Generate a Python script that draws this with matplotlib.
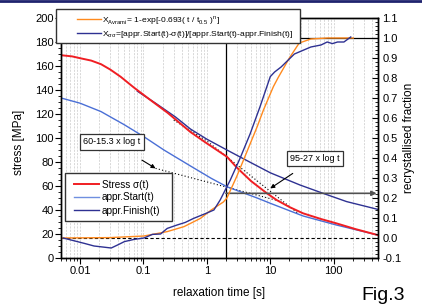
import matplotlib
matplotlib.use("Agg")
import matplotlib.pyplot as plt
from matplotlib.lines import Line2D
from matplotlib.patches import Rectangle
from matplotlib.ticker import MultipleLocator, LogLocator, FixedLocator, FixedFormatter, NullFormatter

plt.rcParams['font.family'] = ['Liberation Sans', 'DejaVu Sans']

# ---- data ----
t_stress = [0.005, 0.0075, 0.01, 0.015, 0.0214, 0.03, 0.0437, 0.0708, 0.126, 0.24, 0.55, 1.0,
            2.07, 2.95, 5.0, 8.8, 12.6, 20, 33, 63, 110, 224, 490]
stress = [169, 168, 166.5, 164.5, 161.5, 157, 151, 142, 132, 121, 105, 95.5,
          84.4, 75.5, 64, 54, 48.3, 42.5, 37.2, 32.5, 28.9, 24, 19.2]

t_upper = [0.08, 0.16, 0.32, 0.55, 1.0, 2.07, 4.0, 10, 29.5, 68, 160, 490]
upper = [139, 128.5, 117.5, 107.5, 99, 90, 82, 71, 60.8, 53.9, 47, 40.6]

t_lower = [0.0053, 0.01, 0.0214, 0.05, 0.102, 0.21, 0.55, 1.17, 2.07, 6.2, 10, 33, 110, 490]
lower = [133, 129, 122, 111, 101, 90, 76.7, 66.4, 59.4, 50, 45.6, 35, 27.5, 19.2]

t_avrami = [0.005, 0.03, 0.102, 0.237, 0.437, 0.79, 1.17, 1.82, 2.07, 2.95, 3.9, 4.8,
            6.2, 7.8, 11.2, 13.2, 20, 28.6, 43.6, 80, 204]
x_avrami = [0.0, 0.002, 0.01, 0.032, 0.057, 0.098, 0.14, 0.18, 0.2, 0.307, 0.40, 0.47,
            0.556, 0.64, 0.757, 0.80, 0.90, 0.975, 0.995, 1.0, 1.0]

t_xs = [0.0054, 0.0117, 0.0166, 0.031, 0.039, 0.05, 0.071, 0.102, 0.138, 0.186, 0.237,
        0.339, 0.457, 0.617, 1.0, 1.29, 1.62, 2.34, 3.35, 4.8, 6.9, 10, 11.7, 14.8, 24,
        43.6, 63, 79, 95.5, 115, 145, 186]
x_s = [0.0, -0.027, -0.04, -0.05, -0.035, -0.018, -0.007, 0.0, 0.018, 0.02, 0.048,
       0.065, 0.078, 0.098, 0.125, 0.14, 0.19, 0.29, 0.40, 0.52, 0.657, 0.807, 0.83, 0.855, 0.92,
       0.955, 0.965, 0.98, 0.972, 0.98, 0.98, 1.005]

t_fit_upper = [0.3, 1.0, 27]
fit_upper = [115, 97.5, 37.5]
t_fit_lower = [0.155, 15]
fit_lower = [74.7, 47.0]

x_ticks = [0.01, 0.1, 1, 10, 100]
x_ticklabels = ['0.01', '0.1', '1', '10', '100']

RED = '#f01e23'
ORANGE = '#ff8a1e'
NAVY = '#2e3192'
BLUE = '#4a6fd6'

fig = plt.figure(figsize=(4.22, 3.05), dpi=100)
ax = fig.add_axes([61/422, 1-258/305, (378-61)/422, (258-18)/305])
ax2 = ax.twinx()

ax.set_xscale('log')
ax.set_xlim(0.005, 500)
ax.set_ylim(0, 200)
ax2.set_ylim(-0.1, 1.1)

ax.grid(True, which='both', axis='x', color='#d2d2d2', ls=(0, (2.5, 1.5)), lw=0.6)
ax.set_axisbelow(True)

ax.axvline(2, color='black', lw=0.9, zorder=1.5)

ax.plot(t_fit_upper, fit_upper, color='black', ls=(0, (1, 2)), lw=0.8)
ax.plot(t_fit_lower, fit_lower, color='black', ls=(0, (1, 2)), lw=0.8)

ax.plot(t_lower, lower, color=BLUE, lw=1.0)
ax.plot(t_upper, upper, color=NAVY, lw=1.0)
ax.plot(t_stress, stress, color=RED, lw=1.4)

ax.annotate('', xy=(500, 53.9), xytext=(2, 53.9),
            arrowprops=dict(arrowstyle='-|>', color='#505050', lw=1.2, mutation_scale=7,
                            shrinkA=0, shrinkB=1))

ax2.axhline(0.0, color='black', ls=(0, (3, 2)), lw=0.8)
ax2.hlines(1.0, 28, 500, color='black', lw=0.9)
ax2.plot(t_avrami, x_avrami, color=ORANGE, lw=1.0)
ax2.plot(t_xs, x_s, color=NAVY, lw=1.0)

bbox = dict(boxstyle='square,pad=0.35', fc='white', ec='#333333', lw=0.9)
ax.annotate('60-15.3 x log t', xy=(0.155, 74.7), xytext=(0.0318, 96.7), fontsize=6.5,
            ha='center', va='center', bbox=bbox, zorder=6,
            arrowprops=dict(arrowstyle='-|>', color='black', lw=0.8, mutation_scale=6,
                            shrinkA=14, shrinkB=0))
ax.annotate('95-27 x log t', xy=(10, 58), xytext=(51.3, 83), fontsize=6.5,
            ha='center', va='center', bbox=bbox, zorder=6,
            arrowprops=dict(arrowstyle='-|>', color='black', lw=0.8, mutation_scale=6,
                            shrinkA=9, shrinkB=0))

# ticks
ax.xaxis.set_major_locator(FixedLocator(x_ticks))
ax.xaxis.set_major_formatter(FixedFormatter(x_ticklabels))
ax.xaxis.set_minor_locator(LogLocator(base=10, subs=range(2, 10), numticks=20))
ax.xaxis.set_minor_formatter(NullFormatter())
ax.yaxis.set_major_locator(MultipleLocator(20))
ax.yaxis.set_minor_locator(MultipleLocator(5))
ax2.yaxis.set_major_locator(MultipleLocator(0.1))
ax2.yaxis.set_minor_locator(MultipleLocator(0.02))
ax2.yaxis.set_major_formatter(plt.FuncFormatter(lambda v, p: f'{v:.1f}'))

ax.tick_params(axis='x', which='major', direction='out', length=4, width=0.8, labelsize=8, pad=2)
ax.tick_params(axis='x', which='minor', direction='out', length=2.5, width=0.6)
ax.tick_params(axis='y', which='major', direction='out', length=4, width=0.8, labelsize=8, pad=1)
ax.tick_params(axis='y', which='minor', direction='out', length=2, width=0.6)
ax2.tick_params(axis='y', which='major', direction='in', length=4, width=0.8, labelsize=8, pad=3)
ax2.tick_params(axis='y', which='minor', direction='in', length=2, width=0.6)

for a in (ax, ax2):
    for s in a.spines.values():
        s.set_linewidth(1.0)

ax.set_ylabel('stress [MPa]', fontsize=8.5)
ax.yaxis.set_label_coords(-0.115, 0.48)
ax2.set_ylabel('recrystallised fraction', fontsize=8.5)
ax2.yaxis.set_label_coords(1.078, 0.5)
ax.set_xlabel('relaxation time [s]', fontsize=8.5)
ax.xaxis.set_label_coords(0.5, -0.12)

# top legend
fig.add_artist(Rectangle((56/422, 1-43/305), (300-56)/422, (43-9)/305, transform=fig.transFigure,
                         fc='white', ec='#333333', lw=1.0, zorder=3))
h1 = [Line2D([], [], color=ORANGE, lw=1.0), Line2D([], [], color=NAVY, lw=1.0)]
l1 = [r'X$_{\mathregular{Avrami}}$= 1-exp[-0.693( t / t$_{\mathregular{0.5}}$ )$^{\mathregular{n}}$]',
      r'X$_{\mathregular{σσ}}$=[appr.Start(t)-σ(t)]/[appr.Start(t)-appr.Finish(t)]']
leg1 = fig.legend(h1, l1, loc='center left', bbox_to_anchor=(77/422, 1-27/305), frameon=False,
                  fontsize=6.1, handlelength=2.8, handletextpad=0.2, labelspacing=0.3,
                  borderpad=0, borderaxespad=0)
leg1.set_zorder(4)

# lower legend
fig.add_artist(Rectangle((65/422, 1-221/305), (172-65)/422, (221-173)/305, transform=fig.transFigure,
                         fc='white', ec='#333333', lw=1.0, zorder=3))
h2 = [Line2D([], [], color=RED, lw=1.4), Line2D([], [], color='#6f8fe0', lw=1.0),
      Line2D([], [], color=NAVY, lw=1.0)]
l2 = ['Stress σ(t)', 'appr.Start(t)', 'appr.Finish(t)']
leg2 = fig.legend(h2, l2, loc='center left', bbox_to_anchor=(74/422, 1-197.5/305), frameon=False,
                  fontsize=7.2, handlelength=2.5, handletextpad=0.3, labelspacing=0.3,
                  borderpad=0, borderaxespad=0)
leg2.set_zorder(4)

fig.text(361/422, 5/305, 'Fig.3', fontsize=14, ha='left', va='baseline')
fig.add_artist(Line2D([0, 1], [0.998, 0.998], transform=fig.transFigure, color='#1f236e', lw=2))

fig.savefig('out.png', dpi=100)
